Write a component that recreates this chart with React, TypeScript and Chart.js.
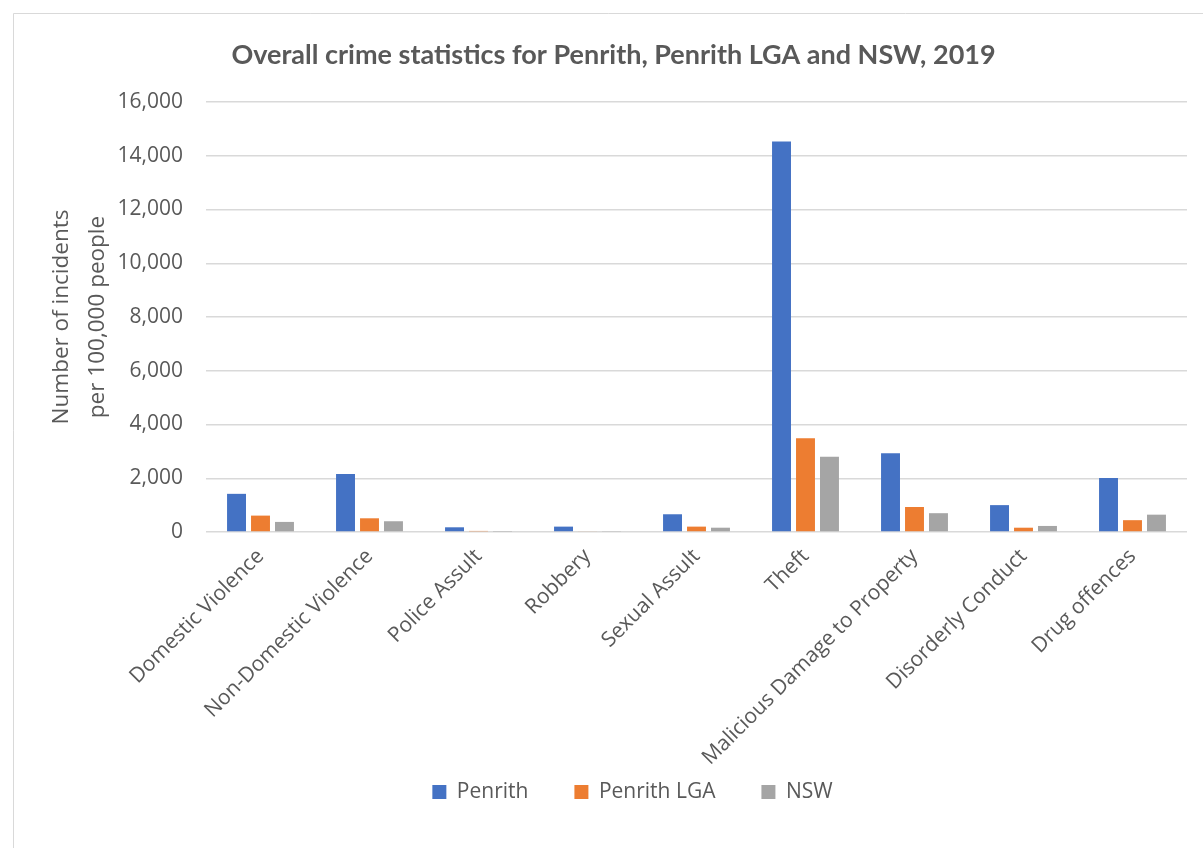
import React, { useEffect, useRef } from "react";
import { Chart, registerables } from "chart.js";

Chart.register(...registerables);

const categories = [
  "Domestic Violence",
  "Non-Domestic Violence",
  "Police Assult",
  "Robbery",
  "Sexual Assult",
  "Theft",
  "Malicious Damage to Property",
  "Disorderly Conduct",
  "Drug offences",
];
const penrith = [1420, 2160, 175, 200, 660, 14530, 2930, 1000, 2010];
const penrithLGA = [610, 510, 40, 30, 200, 3490, 930, 160, 440];
const nsw = [375, 400, 15, 20, 160, 2800, 700, 225, 645];

const titleText = "Overall crime statistics for Penrith, Penrith LGA and NSW, 2019";
const yTitle = ["Number of incidents", "per 100,000 people"];

const W = 1203;
const H = 848;
const TEXT = "#595959";
const GRID = "#d9d9d9";
const SANS = "'Open Sans'";

const framePlugin = {
  id: "frame",
  beforeDraw(chart: any) {
    const ctx = chart.ctx;
    ctx.save();
    ctx.fillStyle = "#ffffff";
    ctx.fillRect(0, 0, chart.width, chart.height);
    ctx.strokeStyle = GRID;
    ctx.lineWidth = 1;
    ctx.beginPath();
    ctx.moveTo(13.5, chart.height);
    ctx.lineTo(13.5, 13.5);
    ctx.lineTo(chart.width, 13.5);
    ctx.stroke();
    ctx.restore();
  },
};

// Excel-style offsets: legend/title slightly right of centre, and the
// rotated category labels allowed to run down past the axis box.
const layoutTweakPlugin = {
  id: "layoutTweak",
  afterLayout(chart: any) {
    if (chart.legend) {
      chart.legend.left += 29;
      chart.legend.right += 29;
    }
    if (chart.titleBlock) {
      chart.titleBlock.left += 10;
      chart.titleBlock.right += 10;
    }
    const x = chart.scales.x;
    if (x) {
      x.bottom += 70;
    }
  },
};

export default function App() {
  const ref = useRef<HTMLCanvasElement | null>(null);
  useEffect(() => {
    if (!ref.current) return;
    let chart: any = null;
    let cancelled = false;
    const build = () => {
      if (cancelled || !ref.current) return;
      chart = new Chart(ref.current, {
        type: "bar",
        data: {
          labels: categories,
          datasets: [
            { label: "Penrith", data: penrith, backgroundColor: "#4472C4" },
            { label: "Penrith LGA", data: penrithLGA, backgroundColor: "#ED7D31" },
            { label: "NSW", data: nsw, backgroundColor: "#A5A5A5" },
          ],
        },
        options: {
          animation: false,
          responsive: false,
          maintainAspectRatio: false,
          datasets: {
            bar: { categoryPercentage: 0.66, barPercentage: 0.79 },
          },
          layout: { padding: { top: 13, left: 20, right: 16, bottom: 35.5 } },
          plugins: {
            title: {
              display: true,
              text: titleText,
              color: TEXT,
              font: { family: "Lato", size: 27, weight: "bold", lineHeight: 1.2 },
              padding: { top: 26, bottom: 30.6 },
            },
            legend: {
              position: "bottom",
              labels: {
                color: TEXT,
                boxWidth: 14,
                boxHeight: 14,
                padding: 46,
                font: { family: SANS, size: 21 },
              },
            },
            tooltip: { enabled: false },
          },
          scales: {
            x: {
              grid: { display: false, drawTicks: false },
              border: { display: false },
              ticks: {
                color: TEXT,
                minRotation: 45,
                maxRotation: 45,
                autoSkip: false,
                padding: 12,
                font: { family: SANS, size: 21 },
              },
              afterFit(scale: any) {
                scale.height = 203.5;
              },
            },
            y: {
              min: 0,
              max: 16000,
              ticks: {
                stepSize: 2000,
                color: TEXT,
                padding: 23,
                font: { family: SANS, size: 21 },
              },
              grid: { color: GRID, lineWidth: 1.5, drawTicks: false },
              border: { display: false },
              title: {
                display: true,
                text: yTitle,
                color: TEXT,
                font: { family: SANS, size: 22.5, lineHeight: 1.6 },
                padding: { top: 24, bottom: 0 },
              },
              afterFit(scale: any) {
                scale.width = 186;
              },
            },
          },
        },
        plugins: [framePlugin, layoutTweakPlugin],
      });
    };
    const fonts: any = (document as any).fonts;
    if (fonts && fonts.load) {
      Promise.all([
        fonts.load("21px 'Open Sans'"),
        fonts.load("bold 27px Lato"),
      ]).then(build, build);
    } else {
      build();
    }
    return () => {
      cancelled = true;
      if (chart) chart.destroy();
    };
  }, []);
  return (
    <div style={{ position: "fixed", left: 0, top: 0, width: W, height: H, background: "#fff" }}>
      <canvas ref={ref} width={W} height={H} style={{ width: W, height: H, display: "block" }} />
    </div>
  );
}
